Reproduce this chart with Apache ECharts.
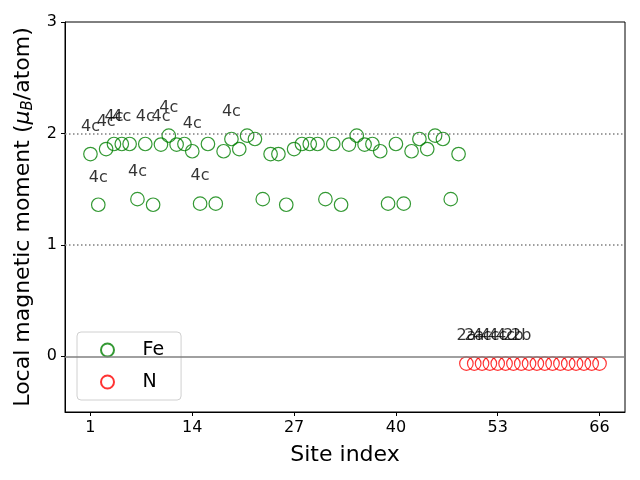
<!DOCTYPE html>
<html><head><meta charset="utf-8">
<script src="https://cdn.jsdelivr.net/npm/echarts@6/dist/echarts.min.js"></script>
<style>html,body{margin:0;padding:0;background:#fff}#c{width:640px;height:480px}</style>
</head><body><div id="c"></div>
<script>
const feSites = [1,2,3,4,5,6,7,8,9,10,11,12,13,14,15,16,17,18,19,20,21,22,23,24,25,26,27,28,29,30,31,32,33,34,35,36,37,38,39,40,41,42,43,44,45,46,47,48];
const feMoments = [1.815,1.36,1.86,1.905,1.905,1.905,1.41,1.905,1.36,1.90,1.98,1.90,1.905,1.84,1.37,1.905,1.37,1.84,1.95,1.86,1.98,1.95,1.41,1.815,
                   1.815,1.36,1.86,1.905,1.905,1.905,1.41,1.905,1.36,1.90,1.98,1.90,1.905,1.84,1.37,1.905,1.37,1.84,1.95,1.86,1.98,1.95,1.41,1.815];
const feLabels = ['4c','4c','4c','4c','4c','','4c','4c','','4c','4c','','','4c','4c','','','','4c','','','','','',
                  '','','','','','','','','','','','','','','','','','','','','','','',''];
const nSites = [49,50,51,52,53,54,55,56,57,58,59,60,61,62,63,64,65,66];
const nMoments = [-0.065,-0.065,-0.065,-0.065,-0.065,-0.065,-0.065,-0.065,-0.065,-0.065,-0.065,-0.065,-0.065,-0.065,-0.065,-0.065,-0.065,-0.065];
const nLabels = ['2a','2a','4c','4c','4c','4c','2b','2b','','','','','','','','','',''];
const xTicks = [1,14,27,40,53,66];
const yTicks = [0,1,2,3];
const guideLevels = [1,2];
const zeroLevel = 0;

const chart = echarts.init(document.getElementById('c'), null, {renderer:'canvas'});
const FONT = 'DejaVu Sans';
function pts(xs, ys){ return xs.map((x,i)=>[x, ys[i]]); }
const labelCfg = (arr) => ({
  show: true, position: 'top', distance: 12,
  formatter: p => arr[p.dataIndex], color: '#000', fontSize: 16, fontFamily: FONT
});
chart.setOption({
  animation: false,
  backgroundColor: '#fff',
  grid: {left: 65, right: 15, top: 22, bottom: 68, show: true, borderColor: '#000', borderWidth: 1, backgroundColor: 'transparent'},
  xAxis: {
    type: 'value', min: -2.25, max: 69.25,
    name: 'Site index', nameLocation: 'middle', nameGap: 32,
    nameTextStyle: {fontSize: 22, fontFamily: FONT, color: '#000'},
    axisLine: {show: true, onZero: false, lineStyle: {color: '#000', width: 1}},
    axisTick: {show: true, length: 4, lineStyle: {color: '#000'}, customValues: xTicks},
    axisLabel: {customValues: xTicks, fontSize: 16, fontFamily: FONT, color: '#000', margin: 8},
    splitLine: {show: false}
  },
  yAxis: {
    type: 'value', min: -0.5, max: 3,
    name: '{t|Local magnetic moment (}{mu|μ}{sub|B}{t|/atom)}', nameLocation: 'middle', nameGap: 27,
    nameTextStyle: {fontSize: 22, fontFamily: FONT, color: '#000',
      rich: {
        t: {fontSize: 22, fontFamily: FONT, color: '#000'},
        mu: {fontSize: 22, fontFamily: FONT, fontStyle: 'italic', color: '#000'},
        sub: {fontSize: 15, fontFamily: FONT, fontStyle: 'italic', color: '#000', padding: [10,0,0,0]}
      }},
    axisLine: {show: true, onZero: false, lineStyle: {color: '#000', width: 1}},
    axisTick: {show: true, length: 4, lineStyle: {color: '#000'}, customValues: yTicks},
    axisLabel: {customValues: yTicks, fontSize: 16, fontFamily: FONT, color: '#000', margin: 8},
    splitLine: {show: false}
  },
  legend: {
    orient: 'vertical', left: 77, top: 332,
    padding: [8, 17, 8, 23], itemGap: 12, itemWidth: 60, itemHeight: 13,
    borderColor: '#d0d0d0', borderWidth: 1, borderRadius: 4, backgroundColor: 'rgba(255,255,255,0.8)',
    textStyle: {fontSize: 19, fontFamily: FONT, color: '#000', lineHeight: 20},
    data: ['Fe', 'N']
  },
  series: [
    {
      name: 'guides', type: 'line', data: [], silent: true, z: 1,
      markLine: {
        silent: true, symbol: 'none', label: {show: false},
        data: guideLevels.map(v => ({yAxis: v, lineStyle: {type: [1.5,2.5], color: '#7f7f7f', width: 1.5}}))
          .concat([{yAxis: zeroLevel, lineStyle: {type: 'solid', color: '#808080', width: 1.5}}])
      }
    },
    {
      name: 'Fe', type: 'scatter', data: pts(feSites, feMoments), symbol: 'circle', symbolSize: 13.5, z: 3,
      itemStyle: {color: 'rgba(0,0,0,0)', borderColor: '#008000', borderWidth: 1.2},
      label: labelCfg(feLabels), labelLayout: {hideOverlap: false}
    },
    {
      name: 'N', type: 'scatter', data: pts(nSites, nMoments), symbol: 'circle', symbolSize: 13.5, z: 3,
      itemStyle: {color: 'rgba(0,0,0,0)', borderColor: '#ff0000', borderWidth: 1.2},
      label: labelCfg(nLabels), labelLayout: {hideOverlap: false}
    }
  ]
});
</script></body></html>
